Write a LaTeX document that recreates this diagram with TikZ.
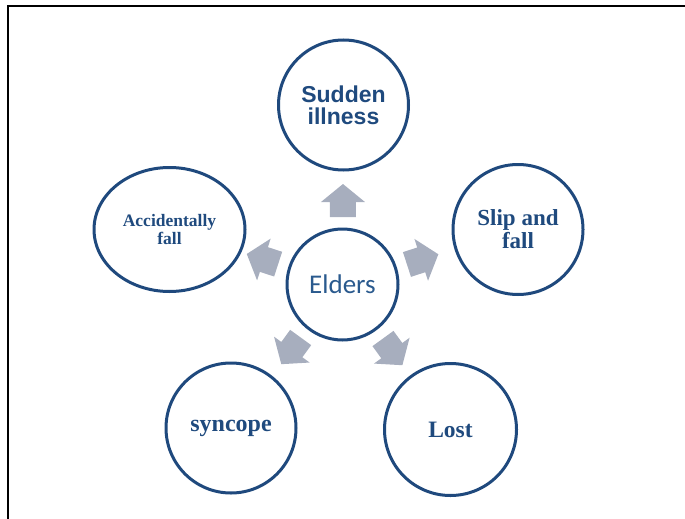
\documentclass[tikz,border=0pt]{standalone}
\usepackage{fontspec}
\usetikzlibrary{shapes.geometric,calc}
\newfontfamily\headsans{Liberation Sans}
\newfontfamily\headserif{Liberation Serif}
\newfontfamily\centrefont{Carlito}
\definecolor{ringblue}{HTML}{1F497D}
\definecolor{textblue}{HTML}{1F4A7E}
\definecolor{centreblue}{HTML}{2A5A8E}
\definecolor{arrowgrey}{HTML}{A7AEBE}
\begin{document}
\begin{tikzpicture}[x=1pt,y=-1pt,
  ring/.style={circle,draw=ringblue,line width=3pt,fill=white,inner sep=0pt,
    align=center,text=textblue},
  sansbold/.style={font=\headsans\bfseries\fontsize{23}{22}\selectfont},
  serifbold/.style={font=\headserif\bfseries\fontsize{#1}{#1}\selectfont},
  blockarrow/.style={fill=arrowgrey}]
  \useasboundingbox (0,0) rectangle (685,519);
  % open frame: top and left edges only
  \draw[line width=2pt,black] (685,6) -- (8,6) -- (8,519);

  \node[ring,minimum size=111pt,text=centreblue,
        font=\centrefont\fontsize{27}{27}\selectfont] (elders) at (342.5,284.5) {Elders};
  \node[ring,minimum size=130pt,sansbold] (sud) at (343.5,105) {Sudden\\illness};
  \node[ring,minimum size=130pt,serifbold=23] (slip) at (518,229.5) {Slip and\\fall};
  \node[ring,minimum size=132pt,serifbold=23.5] (lost) at (450.5,429.5) {Lost};
  \node[ring,minimum size=130pt,serifbold=24] (sync) at (231,428) {syncope};
  \node[ring,ellipse,minimum width=151pt,minimum height=124pt,serifbold=17.5] (acc)
       at (169.5,229.5) {Accidentally\\fall};

  % block arrows pointing from the centre to each outer circle
  \foreach \t/\a in {sud/90, slip/18, lost/-54, sync/-126, acc/162}{
    \fill[blockarrow, shift={($(elders.center)!84pt!(\t.center)$)}, rotate=\a]
      (-16.5,-13) -- (-1.5,-13) -- (-1.5,-22) -- (16.5,0) -- (-1.5,22)
      -- (-1.5,13) -- (-16.5,13) -- cycle;
  }
\end{tikzpicture}
\end{document}
